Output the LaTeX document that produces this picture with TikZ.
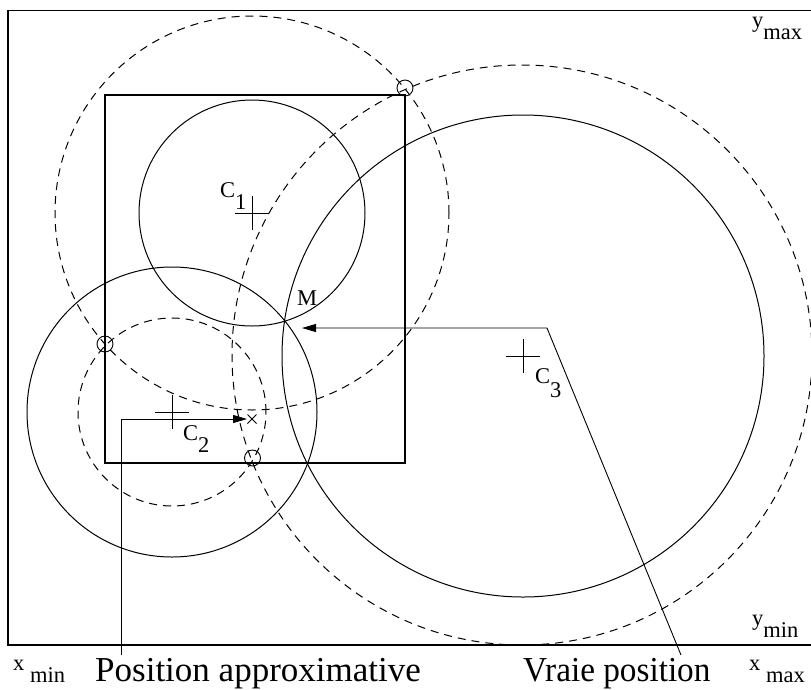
\documentclass[tikz,border=0pt]{standalone}
\usepackage{fontspec}
\setmainfont{Liberation Serif}
\usetikzlibrary{arrows.meta}
\begin{document}
\begin{tikzpicture}[x=1pt,y=-1pt,
  solidc/.style={line width=1pt},
  dashc/.style={line width=1pt, dash pattern=on 8pt off 6pt},
  framec/.style={line width=1.1pt},
  lbl/.style={inner sep=0pt, anchor=base west, font=\fontsize{22.5}{26}\selectfont},
  bigtxt/.style={inner sep=0pt, anchor=base west, font=\fontsize{35}{40}\selectfont},
  arr/.style={line width=0.9pt, -{Triangle[length=14pt,width=8pt]}},
  smallc/.style={circle, draw, line width=0.9pt, minimum size=16pt, inner sep=0pt},
  crossc/.style={line width=0.9pt}
]
\useasboundingbox (0,0) rectangle (811,689);
% frame
\draw[framec] (812,10.5) -- (8,10.5) -- (8,645) -- (812,645);
% centres
\coordinate (c1) at (252,213);
\coordinate (c2) at (172,412);
\coordinate (c3) at (523,356);
% box
\draw[framec] (105,95) rectangle (405,463);
% solid circles
\draw[solidc] (c1) circle[radius=113pt];
\draw[solidc] (c2) circle[radius=145pt];
\draw[solidc] (c3) circle[radius=241pt];
% dashed circles
\draw[dashc] (c1) circle[radius=197pt];
\draw[dashc] (c2) circle[radius=94pt];
\draw[dashc] (522,355) circle[radius=290pt];
% small circles
\node[smallc] (p1) at (405,88) {};
\node[smallc] (p2) at (105,344) {};
\node[smallc] (p3) at (252.5,458) {};
% crosses
\foreach \c in {c1,c2,c3}{
  \draw[crossc] (\c) ++(-17,0) -- ++(34,0);
  \draw[crossc] (\c) ++(0,-17) -- ++(0,34);
}
% approximate position mark
\coordinate (ax) at (252,419);
\draw[crossc] (ax) ++(-4.5,-4.5) -- ++(9,9);
\draw[crossc] (ax) ++(-4.5,4.5) -- ++(9,-9);
% labels
\node[lbl] (l1) at (220,197) {C\raisebox{-12pt}{1}};
\node[lbl] (l2) at (183,440) {C\raisebox{-12pt}{2}};
\node[lbl] (l3) at (535,383) {C\raisebox{-14pt}{3}};
\node[lbl] (lm) at (297,305) {M};
\node[lbl] (ymax) at (752,27) {y\raisebox{-12pt}{max}};
\node[lbl] (ymin) at (752,625) {y\raisebox{-12pt}{min}};
\node[lbl] (xmin) at (13,670) {x\raisebox{-12pt}{ min}};
\node[lbl] (xmax) at (749,670) {x\raisebox{-12pt}{ max}};
\node[bigtxt] (pos) at (95,681) {Position approximative};
\node[bigtxt, xscale=0.95] (vraie) at (523,681) {Vraie position};
% connectors
\coordinate (pa) at (121,655);
\coordinate (atip) at (247,419);
\draw[arr] (pa) |- (atip);
\coordinate (vp) at (681,655);
\coordinate (corner) at (547,328);
\coordinate (mtip) at (302,328);
\draw[arr] (vp) -- (corner) -- (mtip);
\end{tikzpicture}
\end{document}
